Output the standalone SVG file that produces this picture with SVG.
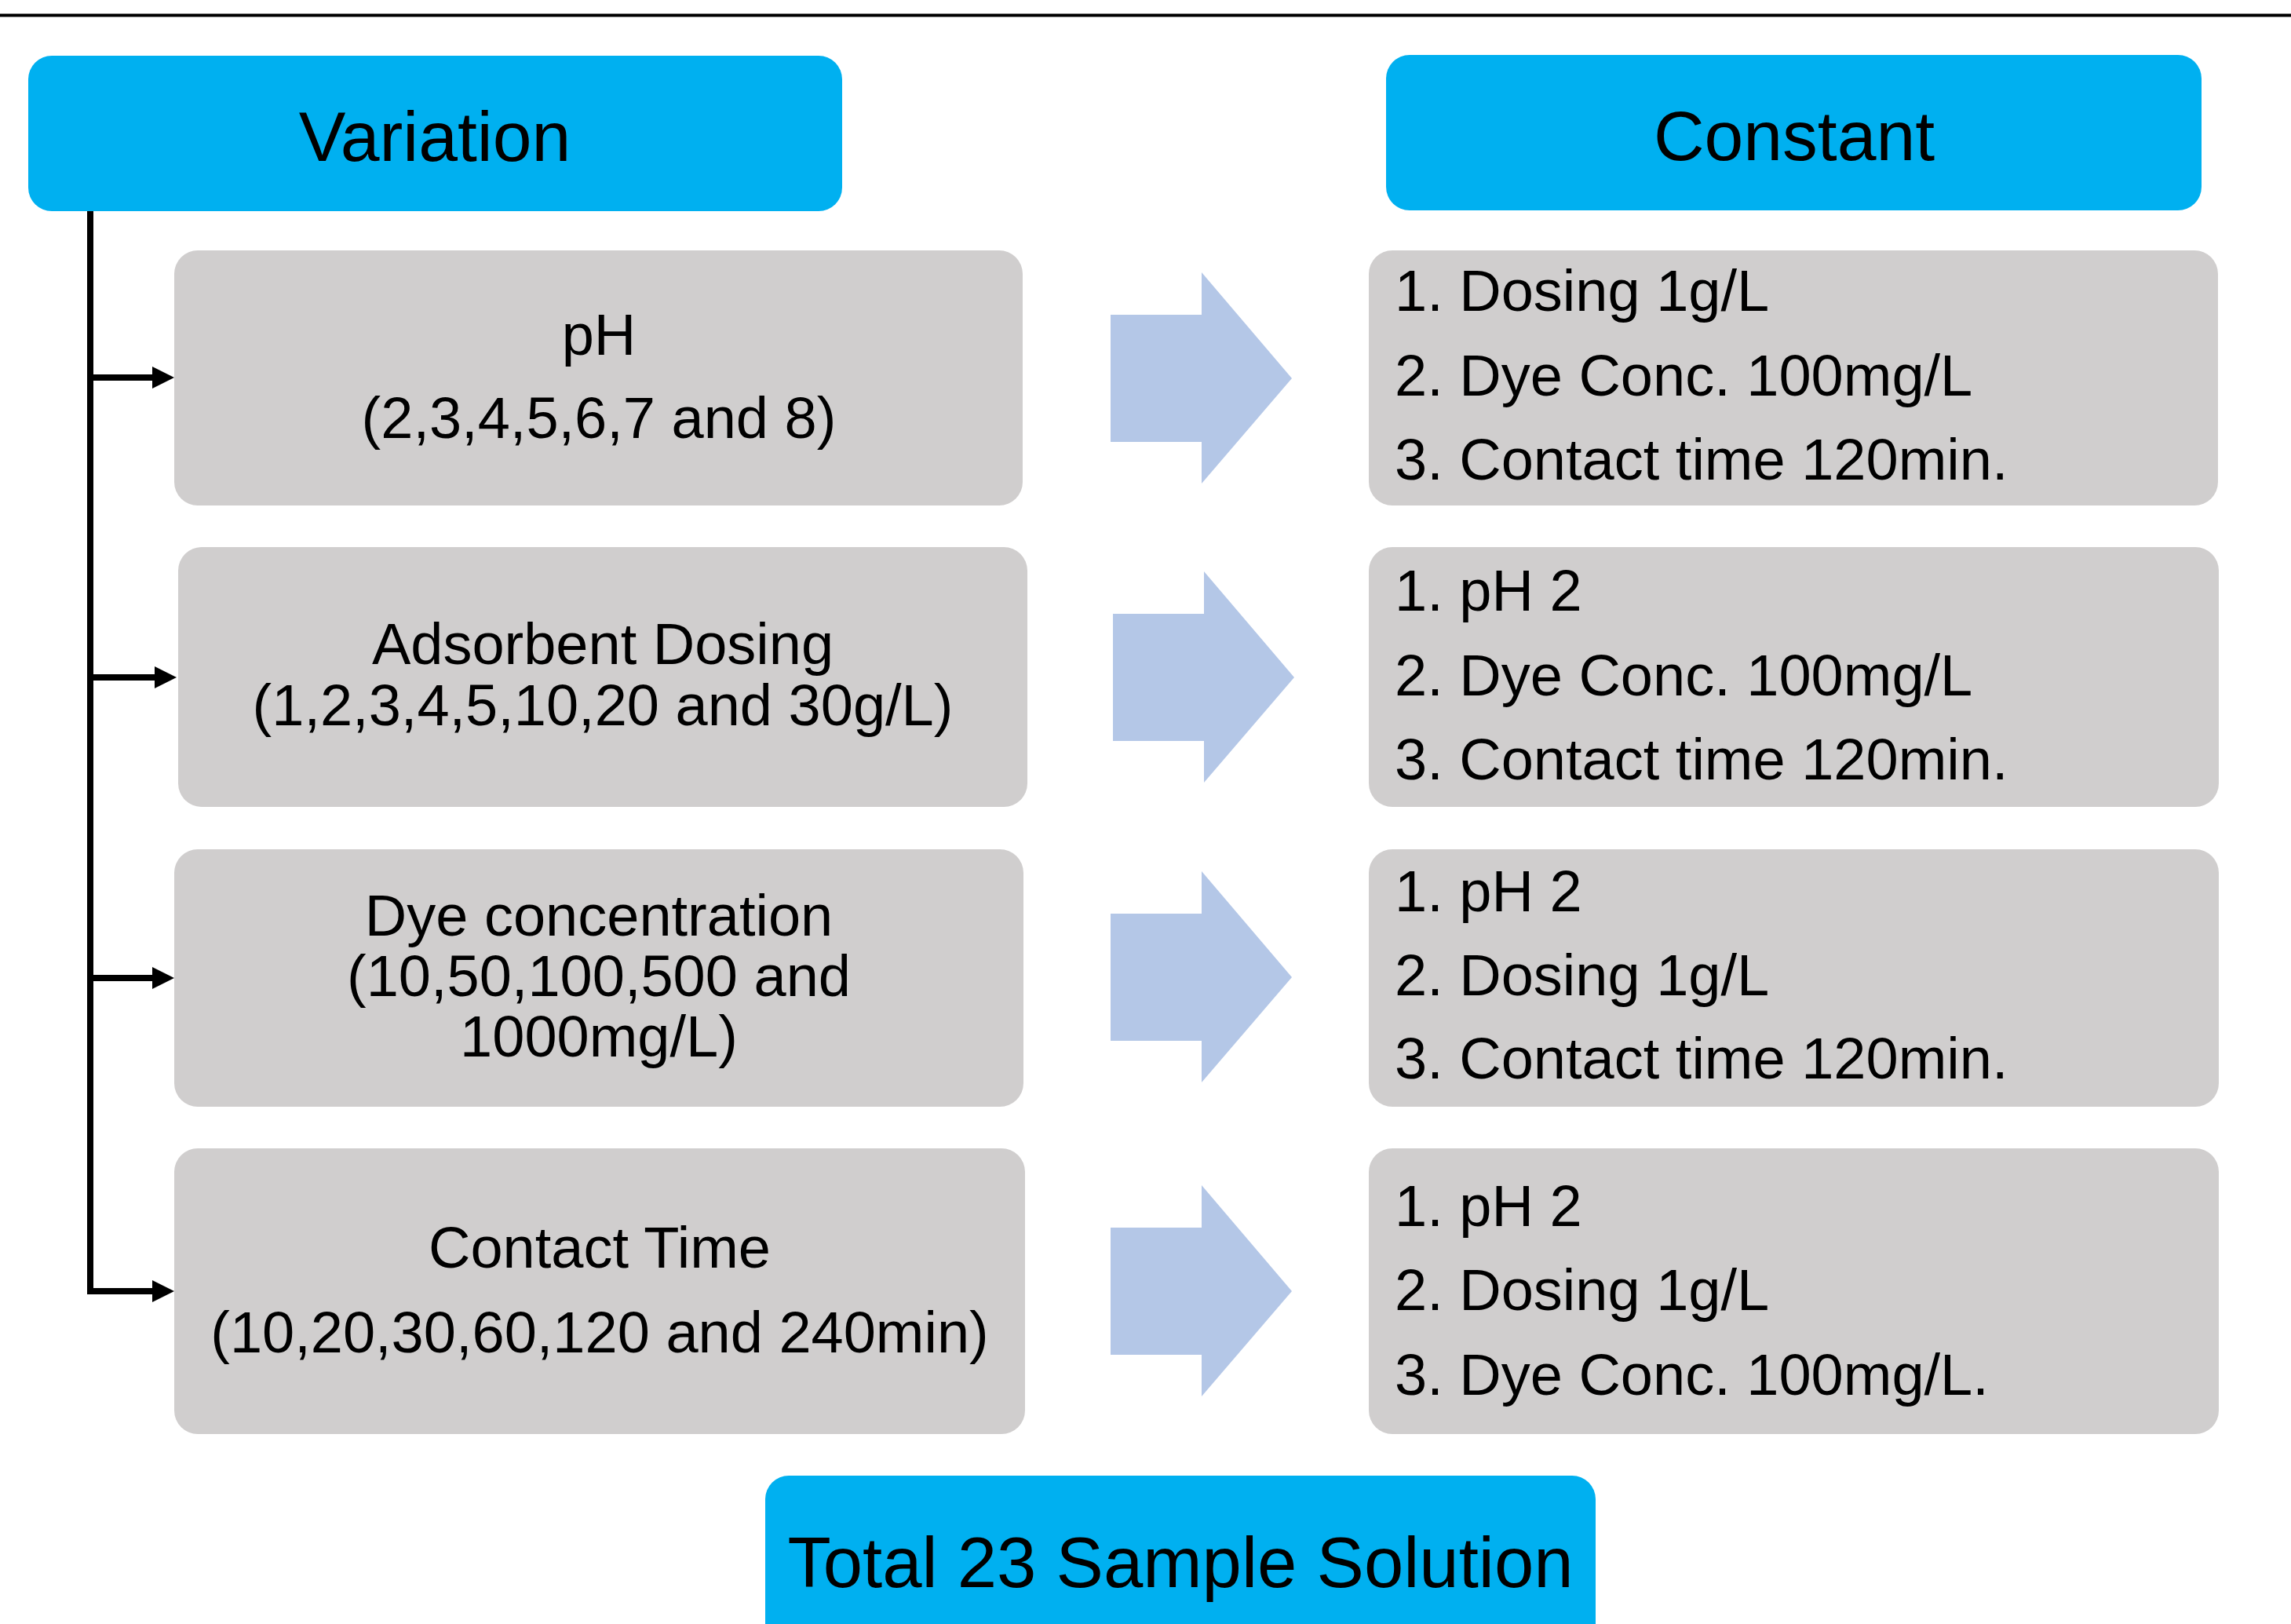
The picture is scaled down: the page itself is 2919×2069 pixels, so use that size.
<svg xmlns="http://www.w3.org/2000/svg" width="2919" height="2069" viewBox="0 0 2919 2069">
<style>
.hdr{fill:#00B0F0}
.box{fill:#D0CECE}
.big{fill:#B4C7E7}
text{font-family:"Liberation Sans",Arial,sans-serif;fill:#000}
.h{font-size:89.5px;text-anchor:middle}
.c{font-size:74px;text-anchor:middle}
.l{font-size:74px}
.conn{stroke:#000;stroke-width:8;fill:none}
</style>
<defs>
<polygon id="bigarrow" points="0,-81 116,-81 116,-135 231,0 116,134 116,81 0,81"/>
<polygon id="tip" points="-28,-14 0,0 -28,14"/>
</defs>
<rect width="2919" height="2069" fill="#fff"/>
<line x1="0" y1="19.5" x2="2919" y2="19.5" stroke="#000" stroke-width="4"/>

<g id="variation">
<rect class="hdr" x="36" y="71" width="1037" height="198" rx="30"/>
<text class="h" x="554" y="205">Variation</text>
</g>
<g id="constant">
<rect class="hdr" x="1766" y="70" width="1039" height="198" rx="30"/>
<text class="h" x="2286" y="204">Constant</text>
</g>

<g id="var-ph">
<rect class="box" x="222" y="319" width="1081" height="325" rx="30"/>
<text class="c" x="763" y="452">pH</text>
<text class="c" x="763" y="558">(2,3,4,5,6,7 and 8)</text>
</g>
<g id="var-dosing">
<rect class="box" x="227" y="697" width="1082" height="331" rx="30"/>
<text class="c" x="768" y="846">Adsorbent Dosing</text>
<text class="c" x="768" y="924">(1,2,3,4,5,10,20 and 30g/L)</text>
</g>
<g id="var-dye">
<rect class="box" x="222" y="1082" width="1082" height="328" rx="30"/>
<text class="c" x="763" y="1192">Dye concentration</text>
<text class="c" x="763" y="1269">(10,50,100,500 and</text>
<text class="c" x="763" y="1346">1000mg/L)</text>
</g>
<g id="var-time">
<rect class="box" x="222" y="1463" width="1084" height="364" rx="30"/>
<text class="c" x="764" y="1615">Contact Time</text>
<text class="c" x="764" y="1723">(10,20,30,60,120 and 240min)</text>
</g>

<g id="const-1">
<rect class="box" x="1744" y="319" width="1082" height="325" rx="30"/>
<text class="l" x="1777" y="396">1. Dosing 1g/L</text>
<text class="l" x="1777" y="504">2. Dye Conc. 100mg/L</text>
<text class="l" x="1777" y="611">3. Contact time 120min.</text>
</g>
<g id="const-2">
<rect class="box" x="1744" y="697" width="1083" height="331" rx="30"/>
<text class="l" x="1777" y="778">1. pH 2</text>
<text class="l" x="1777" y="886">2. Dye Conc. 100mg/L</text>
<text class="l" x="1777" y="993">3. Contact time 120min.</text>
</g>
<g id="const-3">
<rect class="box" x="1744" y="1082" width="1083" height="328" rx="30"/>
<text class="l" x="1777" y="1161">1. pH 2</text>
<text class="l" x="1777" y="1268">2. Dosing 1g/L</text>
<text class="l" x="1777" y="1374">3. Contact time 120min.</text>
</g>
<g id="const-4">
<rect class="box" x="1744" y="1463" width="1083" height="364" rx="30"/>
<text class="l" x="1777" y="1562">1. pH 2</text>
<text class="l" x="1777" y="1669">2. Dosing 1g/L</text>
<text class="l" x="1777" y="1777">3. Dye Conc. 100mg/L.</text>
</g>

<g id="total">
<rect class="hdr" x="975" y="1880" width="1058" height="260" rx="30"/>
<text class="h" x="1504" y="2022" style="font-size:90.5px">Total 23 Sample Solution</text>
</g>

<g id="connectors">
<path class="conn" d="M115,269 V1649 M115,481 H200 M115,863 H203 M115,1246 H200 M111,1645 H200"/>
<use href="#tip" x="222" y="481"/>
<use href="#tip" x="225" y="863"/>
<use href="#tip" x="222" y="1246"/>
<use href="#tip" x="222" y="1645"/>
<use href="#bigarrow" class="big" x="1415" y="482"/>
<use href="#bigarrow" class="big" x="1418" y="863"/>
<use href="#bigarrow" class="big" x="1415" y="1245"/>
<use href="#bigarrow" class="big" x="1415" y="1645"/>
</g>
</svg>
